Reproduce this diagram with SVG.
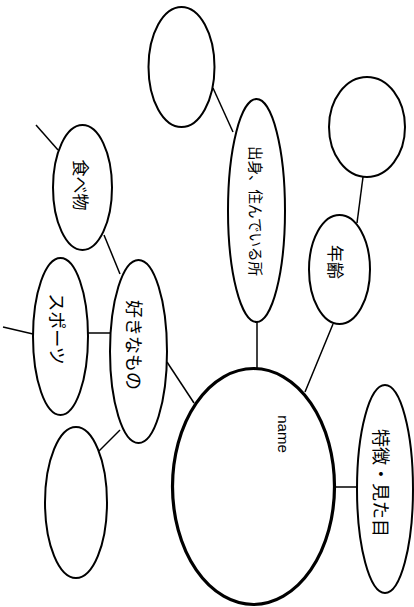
<svg xmlns="http://www.w3.org/2000/svg" width="414" height="607" viewBox="0 0 414 607">
<style>
.n{fill:#fff;stroke:#000;stroke-width:2}
.c line{stroke:#000;stroke-width:1.5}
.t{font-family:"Noto Sans CJK JP","Noto Sans",sans-serif;font-size:16px;text-anchor:middle;dominant-baseline:central;fill:#000}
.e{font-family:"Liberation Sans",Arial,sans-serif;font-size:15px;text-anchor:middle;dominant-baseline:central;fill:#000}
</style>
<rect width="414" height="607" fill="#fff"/>
<g class="c" id="connectors">
<line x1="213" y1="88" x2="233" y2="132"/>
<line x1="363" y1="177" x2="357" y2="223"/>
<line x1="36" y1="125" x2="58" y2="150"/>
<line x1="104" y1="235" x2="120" y2="274"/>
<line x1="3" y1="327" x2="33" y2="334"/>
<line x1="88" y1="333" x2="110" y2="333"/>
<line x1="167" y1="362" x2="194" y2="403"/>
<line x1="120" y1="430" x2="99" y2="451"/>
<line x1="257" y1="322" x2="257" y2="368"/>
<line x1="333" y1="324" x2="305" y2="392"/>
<line x1="335" y1="487" x2="357" y2="487"/>
</g>
<g id="n-top-empty"><ellipse class="n" cx="181.5" cy="67" rx="33" ry="60"/></g>
<g id="n-birthplace"><ellipse class="n" cx="256.5" cy="210.5" rx="28.5" ry="111.5"/><text class="t" style="font-size:14.5px" transform="translate(256,211) rotate(90)">出身、住んでいる所</text></g>
<g id="n-topright-empty"><ellipse class="n" cx="367" cy="127" rx="38" ry="50"/></g>
<g id="n-age"><ellipse class="n" cx="339.5" cy="269.5" rx="30.5" ry="54.5"/><text class="t" style="font-size:17px" transform="translate(336,262) rotate(90)">年齢</text></g>
<g id="n-food"><ellipse class="n" cx="82.5" cy="187.5" rx="29.5" ry="62.5"/><text class="t" style="font-size:17px" transform="translate(81,185) rotate(90)">食べ物</text></g>
<g id="n-likes"><ellipse class="n" cx="138.5" cy="351.5" rx="28.5" ry="91.5"/><text class="t" style="font-size:18px" transform="translate(135,345) rotate(90)">好きなもの</text></g>
<g id="n-sports"><ellipse class="n" cx="60.5" cy="336.5" rx="27.5" ry="78.5"/><text class="t" style="font-size:18px" transform="translate(58,329) rotate(90)">スポーツ</text></g>
<g id="n-bottomleft-empty"><ellipse class="n" cx="76" cy="502.5" rx="31" ry="75.5"/></g>
<g id="n-name"><ellipse class="n" cx="253.5" cy="486.5" rx="81" ry="118" style="stroke-width:3.2"/><text class="e" transform="translate(283,434) rotate(90)">name</text></g>
<g id="n-features"><ellipse class="n" cx="385" cy="489" rx="28" ry="104"/><text class="t" style="font-size:18px" transform="translate(382,483) rotate(90)">特徴・見た目</text></g>
</svg>
